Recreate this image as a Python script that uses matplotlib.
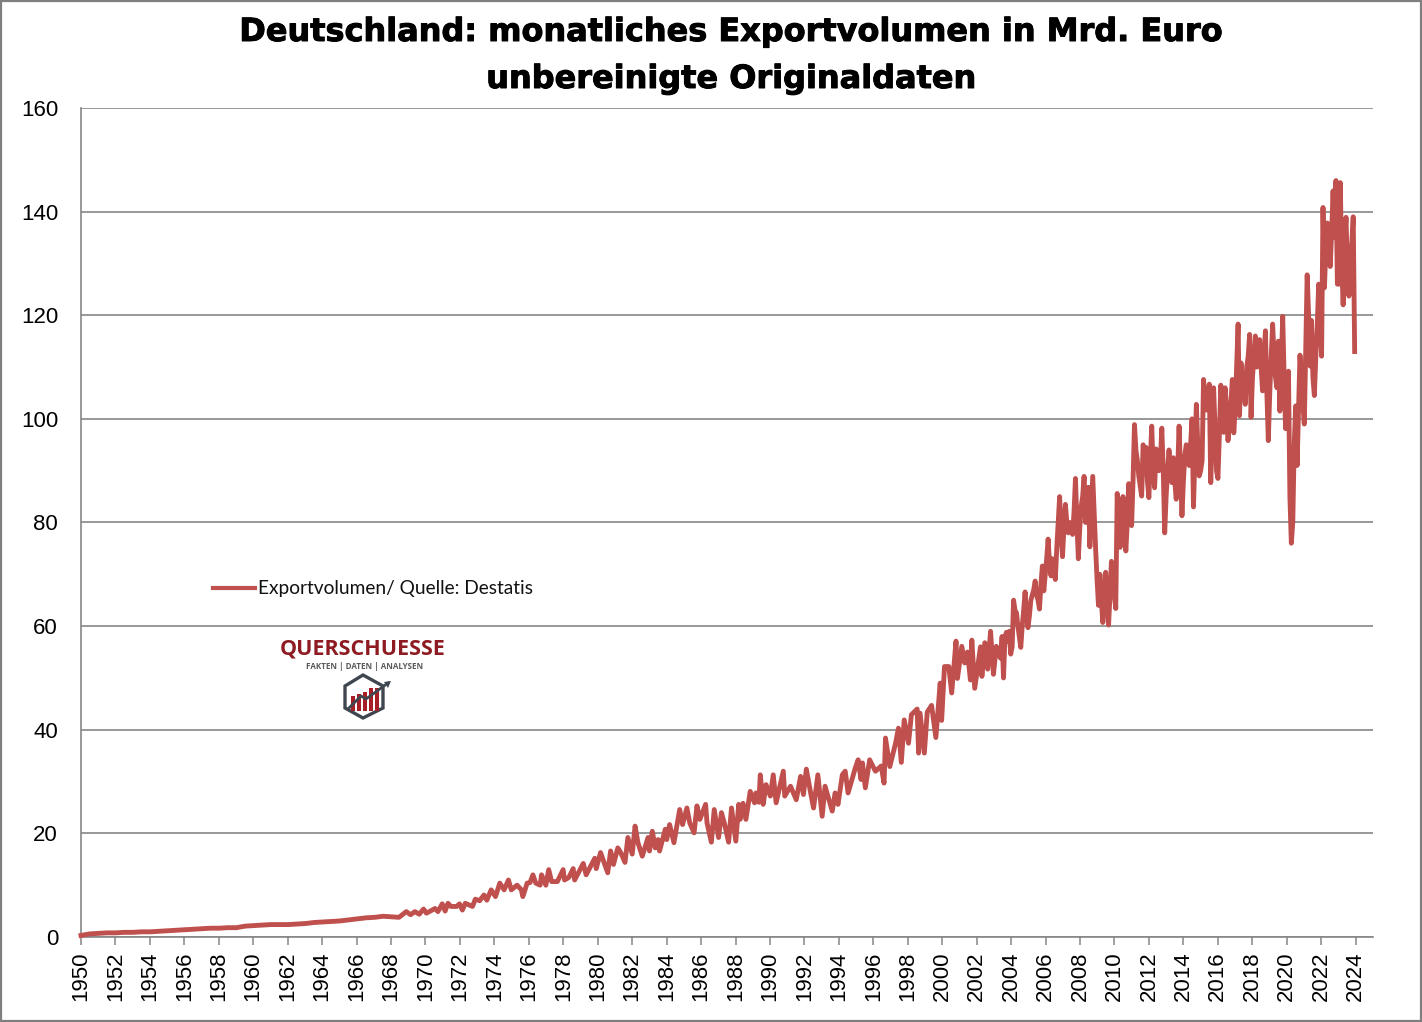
import numpy as np
import matplotlib
matplotlib.use('Agg')
import matplotlib.pyplot as plt
import matplotlib.patheffects as pe
from matplotlib.patches import Polygon, Rectangle
from matplotlib.lines import Line2D
from matplotlib.transforms import Affine2D

# half-yearly readings 1950-1967, line is nearly flat there
early_values = [0.3, 0.6, 0.7, 0.8, 0.8, 0.9, 0.9, 1.0, 1.0, 1.1, 1.2, 1.3, 1.4, 1.5, 1.6, 1.7, 1.7, 1.8,
                1.8, 2.1, 2.2, 2.3, 2.4, 2.4, 2.4, 2.5, 2.6, 2.8, 2.9, 3.0, 3.1, 3.3, 3.5, 3.7, 3.8, 4.0]

# turning points, months counted from jan 1968
months_68 = [0, 5, 10, 13, 16, 19, 22, 24, 30, 32, 35, 37, 39, 41, 45, 47, 49, 51, 56, 58, 61, 64, 66, 69, 72, 75,
             78, 81, 83, 87, 90, 91, 94, 96, 98, 100, 103, 104, 107, 109, 111, 115, 119, 120, 123, 126, 127, 133,
             135, 141, 142]
values_68 = [3.9, 3.8, 4.9, 4.3, 4.9, 4.4, 5.4, 4.6, 5.5, 4.9, 6.4, 5.0, 6.5, 5.9, 5.9, 6.4, 5.2, 6.5, 5.9, 7.3,
             7.0, 8.1, 7.1, 9.1, 7.8, 10.4, 9.1, 11.0, 9.1, 10.0, 9.1, 7.8, 10.4, 10.5, 12.0, 10.4, 10.0, 12.0,
             10.0, 13.0, 10.7, 10.7, 13.0, 11.0, 11.5, 13.2, 11.0, 14.2, 12.0, 15.2, 13.2]

# turning points, months counted from jan 1980
months_80 = [1, 6, 8, 10, 13, 15, 18, 20, 23, 25, 27, 30, 34, 35, 37, 39, 41, 42, 46, 47, 49, 52, 56, 58, 61, 63,
             66, 68, 70, 74, 75, 78, 80, 83, 85, 87, 90, 92, 95, 97, 98, 100, 102, 105, 108, 109, 111, 112, 114,
             116, 119, 121, 123, 128, 129, 133, 137, 140, 142, 144, 147, 149, 152, 155, 157, 162, 164, 166, 169,
             171, 173, 178, 180, 182, 183, 185, 188, 192, 196, 198, 199, 202, 206, 208, 210, 212, 215, 217, 221,
             222, 223, 226, 228, 231, 234, 237, 238, 240, 243, 245, 248, 249, 252, 254, 256, 258, 259, 261, 265,
             266, 268, 270, 272, 274]
values_80 = [16.3, 12.4, 16.6, 14.0, 17.2, 16.3, 14.4, 19.2, 16.0, 21.4, 18.2, 15.6, 19.2, 16.6, 20.4, 17.2, 18.8,
             16.6, 20.8, 18.8, 21.7, 18.2, 24.6, 21.7, 24.9, 22.0, 20.1, 25.3, 22.7, 25.6, 22.0, 18.3, 24.6, 19.2,
             24.0, 22.0, 18.3, 24.9, 18.5, 25.6, 22.7, 25.8, 22.7, 28.1, 25.9, 27.8, 26.0, 31.3, 25.6, 29.4, 27.2,
             31.3, 25.9, 32.0, 27.2, 29.1, 26.5, 31.0, 27.5, 32.4, 27.8, 24.9, 31.3, 23.3, 29.1, 24.3, 27.8, 25.6,
             31.3, 32.0, 27.8, 32.6, 34.2, 30.4, 33.6, 28.8, 34.2, 32.0, 33.0, 29.7, 38.4, 32.9, 37.4, 40.3, 33.7,
             41.9, 37.4, 42.9, 44.0, 35.5, 43.2, 35.5, 43.4, 44.7, 38.5, 49.0, 41.8, 52.2, 52.2, 47.1, 57.1, 49.9,
             56.1, 52.9, 55.0, 49.6, 57.3, 48.0, 56.0, 50.3, 56.8, 51.7, 59.0, 50.7]

# monthly readings from jan 2003 on
y2003 = [56.1, 55.0, 54.3, 53.8, 58.0, 50.0, 57.8, 58.8, 57.0, 59.0, 54.6, 56.0]
y2004 = [65.0, 63.0, 62.6, 60.0, 58.0, 55.9, 60.0, 63.0, 66.6, 62.0, 59.7, 62.0]
y2005 = [65.0, 66.0, 67.0, 68.7, 66.0, 65.0, 63.3, 68.0, 71.6, 66.8, 70.0, 73.0]
y2006 = [76.8, 72.0, 69.7, 73.0, 71.0, 69.0, 75.0, 80.0, 85.0, 78.0, 73.4, 79.0]
y2007 = [83.5, 80.0, 78.0, 80.0, 79.0, 77.7, 82.0, 88.5, 80.0, 73.0, 79.0, 83.2]
y2008 = [85.0, 88.9, 80.0, 84.0, 86.8, 75.3, 82.0, 88.9, 82.0, 75.0, 69.0, 64.0]
y2009 = [70.0, 65.0, 60.7, 65.0, 70.4, 65.0, 60.2, 66.0, 72.5, 69.0, 66.0, 63.4]
y2010 = [85.6, 80.0, 75.2, 82.0, 85.0, 80.0, 74.5, 80.0, 87.5, 84.0, 79.4, 88.0]
y2011 = [98.9, 94.0, 92.0, 89.0, 87.0, 85.1, 95.0, 94.0, 94.5, 88.0, 84.8, 92.0]
y2012 = [98.6, 90.0, 86.7, 94.2, 92.0, 90.0, 92.0, 98.2, 90.0, 78.0, 85.0, 90.0]
y2013 = [94.0, 90.0, 87.7, 92.5, 88.0, 84.5, 90.0, 98.6, 90.0, 81.3, 88.0, 93.0]
y2014 = [95.0, 92.0, 91.0, 95.0, 100.0, 83.0, 93.0, 102.8, 95.0, 89.0, 90.0, 92.0]
y2015 = [107.6, 104.0, 101.7, 104.0, 106.7, 87.7, 98.0, 106.0, 98.0, 90.0, 88.5, 97.0]
y2016 = [106.5, 102.0, 97.4, 106.0, 102.0, 95.8, 100.0, 103.0, 107.6, 97.3, 102.0, 110.0]
y2017 = [118.3, 100.6, 110.8, 108.0, 105.0, 102.8, 110.0, 112.0, 116.3, 100.3, 108.0, 112.0]
y2018 = [116.0, 110.0, 112.0, 115.3, 110.0, 105.4, 112.0, 117.0, 105.0, 95.8, 105.0, 112.0]
y2019 = [118.3, 112.0, 108.0, 106.0, 115.0, 101.5, 110.0, 119.8, 108.0, 98.1, 103.0, 109.2]
y2020 = [85.0, 76.0, 80.0, 95.0, 102.5, 91.0, 102.0, 112.3, 108.0, 103.0, 99.0, 113.0]
y2021 = [127.8, 120.0, 110.2, 119.0, 108.0, 104.5, 112.0, 118.0, 126.0, 120.0, 112.1, 140.8]
y2022 = [125.3, 133.0, 137.8, 136.0, 129.4, 136.0, 144.0, 135.0, 146.0, 126.0, 126.0, 145.6]
y2023 = [130.0, 122.0, 134.0, 138.9, 128.0, 123.7, 129.7, 134.0, 139.0, 113.0]

tick_years = list(range(1950, 2025, 2))
y_ticks = [0, 20, 40, 60, 80, 100, 120, 140, 160]

late_values = (y2003 + y2004 + y2005 + y2006 + y2007 + y2008 + y2009 + y2010 + y2011 + y2012 + y2013
               + y2014 + y2015 + y2016 + y2017 + y2018 + y2019 + y2020 + y2021 + y2022 + y2023)

x = np.concatenate([1950 + np.arange(len(early_values)) / 2,
                    1968 + np.array(months_68) / 12,
                    1980 + np.array(months_80) / 12,
                    2003 + np.arange(len(late_values)) / 12])
y = np.array(early_values + values_68 + values_80 + late_values)
# months were read at 17.27 px per year, the axis really has 17.225
x = 1950 + (x - 1950) * 17.27 / 17.225

W, H = 1422, 1022
fig = plt.figure(figsize=(W / 100, H / 100), dpi=100)
ax = fig.add_axes([81 / W, 1 - 937 / H, (1373 - 81) / W, (937 - 108) / H])

GRAY = '#868686'
RED = '#C0504D'

ax.plot(x, y, color=RED, lw=3.5, solid_joinstyle='round', zorder=3, clip_on=False)
ax.set_xlim(1950, 1950 + (1373 - 81) / 17.225)
ax.set_ylim(0, 160)
ax.set_yticks(y_ticks)
ax.set_xticks(tick_years)
ax.set_xticklabels(tick_years, rotation=90)
ax.grid(axis='y', color=GRAY, lw=1.2, zorder=1)
ax.tick_params(axis='y', length=0, pad=16.5, labelsize=16, labelfontfamily='Liberation Sans')
ax.tick_params(axis='x', length=5.5, width=1.1, color=GRAY, pad=5, labelsize=16, labelfontfamily='Liberation Sans')
for s in ['top', 'right']:
    ax.spines[s].set_visible(False)
for s in ['left', 'bottom']:
    ax.spines[s].set_color(GRAY)
    ax.spines[s].set_linewidth(1.2)

# everything outside the axes is placed in image pixels, origin top left
px = Affine2D().scale(1 / W, -1 / H).translate(0, 1) + fig.transFigure

fig.add_artist(Rectangle((1, 1), W - 2, H - 2, transform=px, fill=False, ec='#7f7f7f', lw=1.6))

stroke = [pe.withStroke(linewidth=0.7, foreground='black')]
fig.text(731.5, 41, 'Deutschland: monatliches Exportvolumen in Mrd. Euro', transform=px, ha='center', va='baseline',
         family='DejaVu Sans', weight='bold', fontsize=23, path_effects=stroke)
fig.text(731.5, 88, 'unbereinigte Originaldaten', transform=px, ha='center', va='baseline',
         family='DejaVu Sans', weight='bold', fontsize=23, path_effects=stroke)

# legend
fig.add_artist(Line2D([213, 255], [588, 588], transform=px, color=RED, lw=3.0))
fig.text(258, 594, 'Exportvolumen/ Quelle: Destatis', transform=px, va='baseline', family='Lato', fontsize=13.8, color='#111111')

# logo
fig.text(363, 655, 'QUERSCHUESSE', transform=px, ha='center', va='baseline', family='Open Sans', weight='bold',
         fontsize=15.5, color='#8E1B22')
fig.text(364.5, 669, 'FAKTEN | DATEN | ANALYSEN', transform=px, ha='center', va='baseline', family='Open Sans',
         weight='bold', fontsize=5.8, color='#5a5a5a')
hexagon = [(363, 675), (383, 686), (383, 708), (363, 718), (345, 708), (345, 686)]
fig.add_artist(Polygon(hexagon, closed=True, transform=px, fill=False, ec='#3f4650', lw=2.4))
for bx, top in [(351, 696), (357, 694), (363, 692), (369, 688), (375, 688)]:
    fig.add_artist(Rectangle((bx, top), 3.5, 711 - top, transform=px, fc='#A81E26', ec='none'))
fig.add_artist(Line2D([349, 361, 366, 388], [708, 696, 699, 683], transform=px, color='#3f4650', lw=2.0))
fig.add_artist(Polygon([(391, 681), (384, 682), (388, 688)], closed=True, transform=px, fc='#3f4650', ec='none'))

fig.savefig('out.png', dpi=100)
